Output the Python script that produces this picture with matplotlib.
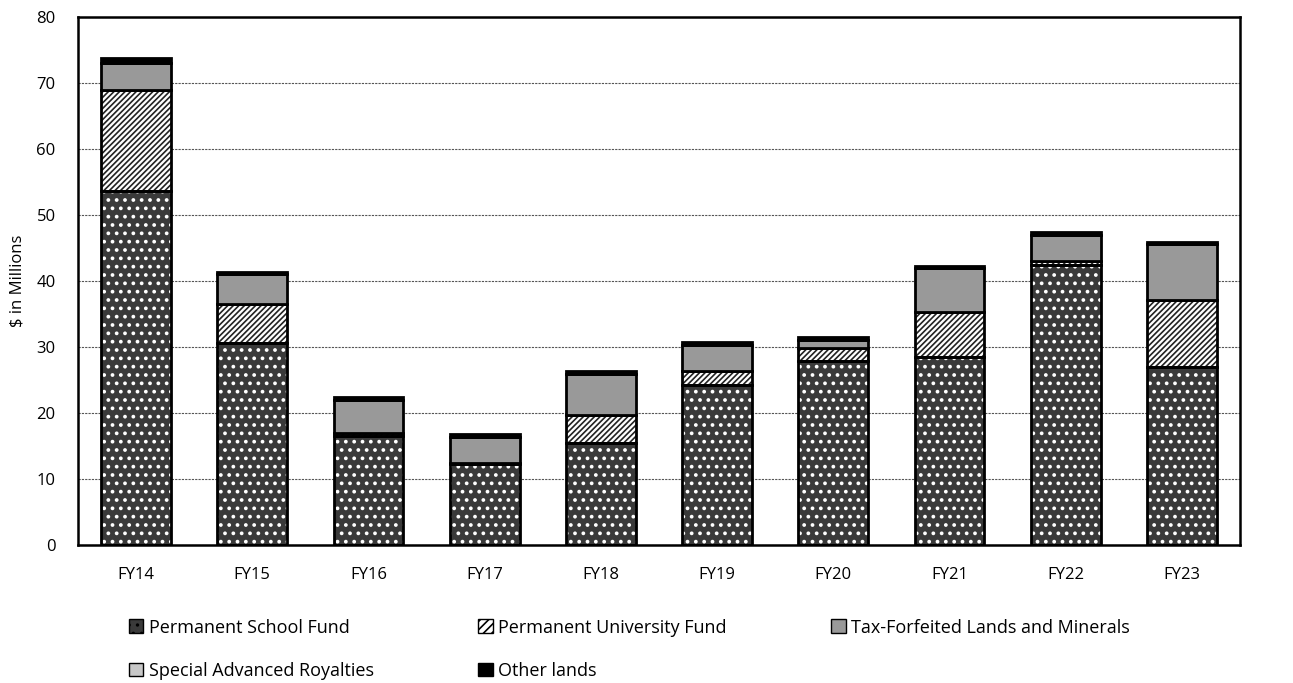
import numpy as np
import matplotlib
matplotlib.use('Agg')
import matplotlib.pyplot as plt
from matplotlib.patches import Patch

plt.rcParams['font.family'] = ['Open Sans', 'DejaVu Sans']

years = ['FY14', 'FY15', 'FY16', 'FY17', 'FY18', 'FY19', 'FY20', 'FY21', 'FY22', 'FY23']
school = [53.6, 30.6, 16.5, 12.3, 15.4, 24.2, 27.9, 28.5, 42.5, 27.0]
university = [15.3, 5.9, 0.5, 0.1, 4.3, 2.2, 1.9, 6.8, 0.5, 10.1]
tax_forfeited = [4.2, 4.5, 5.0, 4.0, 6.2, 3.9, 1.3, 6.7, 4.0, 8.5]
royalties = [0, 0, 0, 0, 0, 0, 0, 0, 0, 0]
other = [0.7, 0.4, 0.4, 0.4, 0.4, 0.5, 0.4, 0.3, 0.4, 0.3]

fig = plt.figure(figsize=(12.93, 6.83), dpi=100)
ax = fig.add_axes([0.0603, 0.202, 0.8987, 0.773])

x = np.arange(len(years))
w = 0.6
bottom = np.zeros(len(years))

# Permanent School Fund: dark fill with white dots
ax.bar(x, school, w, bottom=bottom, color='#3a3a3a', linewidth=0, zorder=2)
plt.rcParams['hatch.color'] = 'white'
plt.rcParams['hatch.linewidth'] = 1.5
ax.bar(x, school, w, bottom=bottom, facecolor='none', edgecolor='white', hatch='..',
       linewidth=0, zorder=3)
ax.bar(x, school, w, bottom=bottom, facecolor='none', edgecolor='black', linewidth=2, zorder=4)
bottom += school

# Permanent University Fund: white with black diagonal hatch
plt.rcParams['hatch.linewidth'] = 1.2
ax.bar(x, university, w, bottom=bottom, facecolor='white', edgecolor='#222222', hatch='//////',
       linewidth=0, zorder=3)
ax.bar(x, university, w, bottom=bottom, facecolor='none', edgecolor='black', linewidth=2, zorder=4)
bottom += university

ax.bar(x, tax_forfeited, w, bottom=bottom, color='#999999', edgecolor='black', linewidth=2, zorder=4)
bottom += tax_forfeited
ax.bar(x, royalties, w, bottom=bottom, color='#c8c8c8', edgecolor='black', linewidth=2, zorder=4)
bottom += np.array(royalties)
ax.bar(x, other, w, bottom=bottom, color='black', edgecolor='black', linewidth=2, zorder=4)

ax.set_ylim(0, 80)
ax.set_xlim(-0.5, len(years) - 0.5)
ax.set_yticks(range(0, 81, 10))
ax.set_xticks(x)
ax.set_xticklabels(years)
ax.tick_params(axis='both', length=0, labelsize=12)
ax.tick_params(axis='x', pad=16)
ax.tick_params(axis='y', pad=16)
ax.yaxis.grid(True, linestyle=(0, (2, 1)), color='#555555', linewidth=0.8, zorder=0)
ax.set_axisbelow(True)
for s in ax.spines.values():
    s.set_linewidth(1.8)
ax.set_ylabel('$ in Millions', fontsize=12, labelpad=8)

h_school = Patch(facecolor='#3a3a3a', edgecolor='black', hatch='..')
h_univ = Patch(facecolor='white', edgecolor='black', hatch='////')
h_tax = Patch(facecolor='#999999', edgecolor='black')
h_roy = Patch(facecolor='#c8c8c8', edgecolor='black')
h_other = Patch(facecolor='black', edgecolor='black')
handles = [h_school, h_roy, h_univ, h_other, h_tax]
labels = ['Permanent School Fund', 'Special Advanced Royalties', 'Permanent University Fund',
          'Other lands', 'Tax-Forfeited Lands and Minerals']
fig.legend(handles, labels, ncol=3, loc='upper left', bbox_to_anchor=(0.094, 0.105),
           frameon=False, fontsize=13, handlelength=0.8, handleheight=0.8,
           handletextpad=0.3, columnspacing=5.8, labelspacing=1.4, borderaxespad=0)

fig.savefig('out.png', dpi=100)
